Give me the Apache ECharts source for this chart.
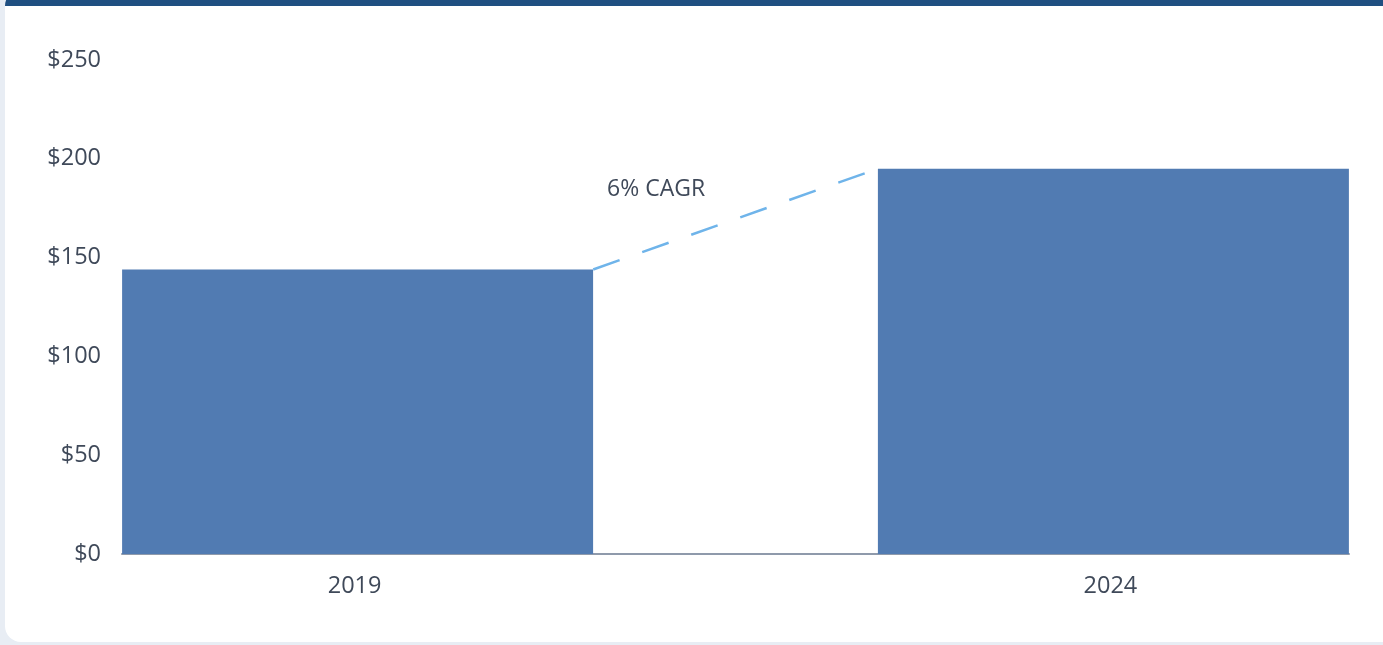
<!DOCTYPE html>
<html>
<head>
<meta charset="utf-8">
<script src="https://cdn.jsdelivr.net/npm/echarts@6/dist/echarts.min.js"></script>
<style>
  html, body { margin:0; padding:0; width:1383px; height:645px; overflow:hidden; background:#e8edf4; }
  #card { position:absolute; left:5px; top:-10px; width:1400px; height:652px; box-sizing:border-box;
          background:#ffffff; border-radius:16px; border-top:16px solid #1f4f81; }
  #chart { position:absolute; left:0; top:0; width:1383px; height:645px; }
</style>
</head>
<body>
<div id="card"></div>
<div id="chart"></div>
<script>
// ---- data ----
const years = [2019, 2024];
const revenue = [144, 195];
const yTicks = [0, 50, 100, 150, 200, 250];
const cagrLabel = '6% CAGR';

// ---- layout constants ----
const barHalfYears = 1.5586;   // half bar width in axis units (bars sit flush with axis ends)
const FONT = '"Open Sans", "Noto Sans", sans-serif';
const TXT = '#3f4959';

const chart = echarts.init(document.getElementById('chart'), null, { renderer: 'canvas' });
chart.setOption({
  animation: false,
  backgroundColor: 'transparent',
  grid: { left: 122, right: 34, top: 60, bottom: 91 },
  xAxis: {
    type: 'value',
    min: years[0] - barHalfYears,
    max: years[years.length - 1] + barHalfYears,
    splitLine: { show: false },
    axisTick: { show: false },
    axisLine: { show: true, onZero: false, lineStyle: { color: '#8f9aab', width: 2 } },
    axisLabel: {
      customValues: years,
      formatter: v => String(v),
      color: TXT, fontFamily: FONT, fontSize: 23.5, margin: 20,
      padding: [0, 6, 0, 0]
    }
  },
  yAxis: {
    type: 'value',
    min: yTicks[0], max: yTicks[yTicks.length - 1], interval: 50,
    splitLine: { show: false },
    axisLine: { show: false },
    axisTick: { show: false },
    axisLabel: {
      formatter: v => '$' + v,
      color: TXT, fontFamily: FONT, fontSize: 23.5, margin: 21,
      padding: [6, 0, 0, 0]
    }
  },
  series: [
    {
      type: 'bar',
      data: years.map((y, i) => [y, revenue[i]]),
      barWidth: 471,
      itemStyle: { color: '#517bb2' },
      z: 2
    },
    {
      type: 'line',
      data: [
        [years[0] + barHalfYears, revenue[0]],
        [years[1] - barHalfYears, revenue[1]]
      ],
      symbol: 'none',
      lineStyle: { color: '#6fb4ea', width: 2.5, type: [28, 24] },
      z: 3
    }
  ],
  graphic: [
    {
      type: 'text',
      left: 607, top: 178,
      style: { text: cagrLabel, fill: TXT, font: '23px ' + FONT }
    }
  ]
});
</script>
</body>
</html>
